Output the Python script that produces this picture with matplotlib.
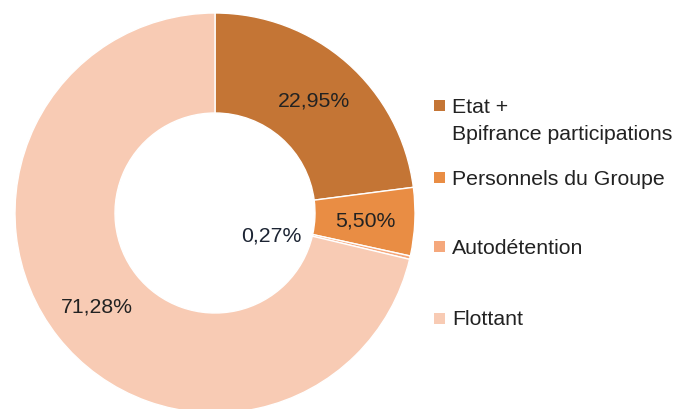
import numpy as np
import matplotlib.pyplot as plt
from matplotlib.patches import Rectangle

# Données
categories = ["Etat +\nBpifrance participations", "Personnels du Groupe", "Autodétention", "Flottant"]
parts = [22.95, 5.50, 0.27, 71.28]
couleurs = ["#C47535", "#E98D44", "#F5A87C", "#F8CBB4"]

plt.rcParams['font.family'] = ['Liberation Sans', 'DejaVu Sans']

fig = plt.figure(figsize=(6.76, 4.10), dpi=100)
# axe carré: centre (215, 214) px, rayon 200 px
ax = fig.add_axes([15 / 676, (410 - 414) / 410, 400 / 676, 400 / 410])
wedges, _ = ax.pie(parts, colors=couleurs, startangle=90, counterclock=False,
                   radius=1.0, wedgeprops=dict(width=0.5, edgecolor='white', linewidth=1.0))
ax.set_xlim(-1, 1)
ax.set_ylim(-1, 1)
ax.set_aspect('equal')
ax.axis('off')

# étiquettes de pourcentage
for w, v in zip(wedges, parts):
    ang = np.deg2rad((w.theta1 + w.theta2) / 2)
    txt = f"{v:.2f}%".replace('.', ',')
    if v < 1:
        x, y = 0.28, -0.11  # placée dans le trou, comme l'original
        col = '#1c2433'
    else:
        x, y = 0.75 * np.cos(ang), 0.75 * np.sin(ang)
        col = '#222222'
    ax.text(x, y, txt, ha='center', va='center', fontsize=15.3, color=col)

# légende manuelle
ys = [106.5, 178.5, 247.5, 319]
for lab, c, yp in zip(categories, couleurs, ys):
    fig.patches.append(Rectangle((434 / 676, 1 - (yp + 5.5) / 410), 11 / 676, 11 / 410,
                                 transform=fig.transFigure, facecolor=c, edgecolor='none'))
    fig.text(452 / 676, 1 - (yp - 8.5) / 410, lab, ha='left', va='top', fontsize=15.3,
             color='#222222', linespacing=1.5)

fig.savefig('out.png', dpi=100, facecolor='white')
